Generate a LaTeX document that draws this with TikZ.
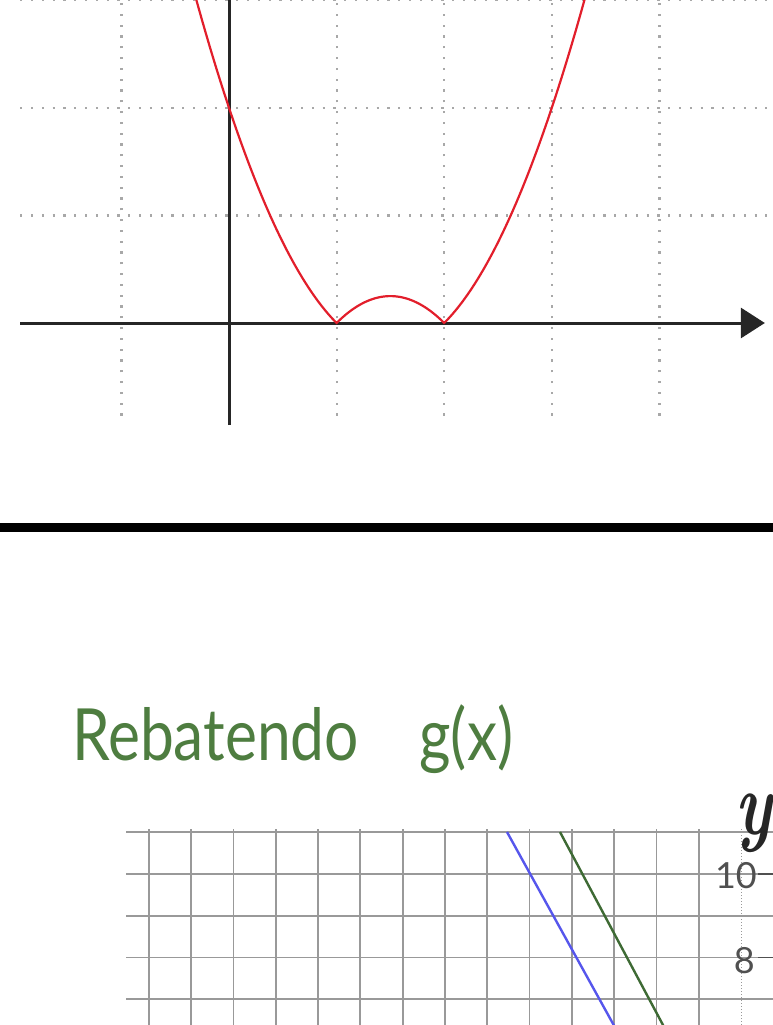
\documentclass[tikz,border=0pt]{standalone}
\usepackage{fontspec}
\usepackage{tikz}
\usetikzlibrary{arrows.meta}
\newfontfamily\handfont{Lato}
\definecolor{curve}    {HTML}{E21E2B}
\definecolor{dotgrid}  {HTML}{A8A8A8}
\definecolor{axisink}  {HTML}{262626}
\definecolor{gridline} {HTML}{999999}
\definecolor{heading}  {HTML}{4E7D40}
\definecolor{lineblue} {HTML}{5656EC}
\definecolor{linegreen}{HTML}{3E6A34}
\definecolor{labelink} {HTML}{505050}

\begin{document}
\begin{tikzpicture}[x=1pt, y=-1pt]
    % page first, so the curve and the lines may run off it
    \useasboundingbox (0,0) rectangle (773,1025);

    % upper plot, one unit = 107.6
    \begin{scope}[shift={(229,323)}, x=107.6pt, y=107.6pt]
      \foreach \gx in {-1,1,2,3,4}
        \draw[dotgrid, line width=2.2pt, dash pattern=on 2.2pt off 8.6pt]
          (\gx,-0.86) -- (\gx,3.05);
      \foreach \gy in {1,2,3}
        \draw[dotgrid, line width=2.2pt, dash pattern=on 2.2pt off 8.6pt]
          (-1.94,\gy) -- (5.0,\gy);
      \draw[axisink, line width=3pt] (0,-0.95) -- (0,3.05);
      \draw[axisink, line width=3pt, -{Triangle[length=24pt, width=30pt]}]
        (-1.94,0) -- (4.98,0);
      \draw[curve, line width=2.2pt]
        plot[domain=-0.34:3.34, samples=185] (\x, {abs(\x*\x-3*\x+2)});
    \end{scope}

    \draw[black, line width=9pt] (0,527) -- (773,527);

    \node[anchor=base west, text=heading, inner sep=0pt,
          font=\handfont\fontsize{72}{72}\selectfont] (title) at (72,760)
      {\scalebox{0.84}[1]{Rebatendo\hspace*{72pt}g(x)}};

    % lower grid, squares of about 42
    \foreach \k in {0,...,5}
      {\pgfmathsetmacro{\hy}{832+41.8*\k}
       \draw[gridline, line width=1.8pt] (126,\hy) -- (773,\hy);}
    \foreach \k in {1,...,14}
      {\pgfmathsetmacro{\vx}{741-42.3*\k}
       \draw[gridline, line width=1.8pt] (\vx,829) -- (\vx,1025);}
    \draw[gridline, line width=1pt, dotted] (741,829) -- (741,1025);
    \draw[labelink, line width=1.8pt] (758,873.8) -- (773,873.8);
    \draw[labelink, line width=1.8pt] (758,957.4) -- (773,957.4);
    \node[anchor=east, text=labelink, inner sep=0pt,
          font=\handfont\fontsize{36}{36}\selectfont] (ten) at (757,876) {10};
    \node[anchor=east, text=labelink, inner sep=0pt,
          font=\handfont\fontsize{36}{36}\selectfont] (eight) at (755,961) {8};
    \node[anchor=base east, text=axisink, inner sep=0pt,
          font=\fontsize{90}{90}\selectfont\bfseries\itshape] (yname) at (772,834)
      {\scalebox{0.72}[1]{y}};

    \draw[lineblue, line width=2.4pt] (507,832) -- (622,1040);
    \draw[linegreen, line width=2.4pt] (560,832) -- (671,1040);
\end{tikzpicture}
\end{document}
